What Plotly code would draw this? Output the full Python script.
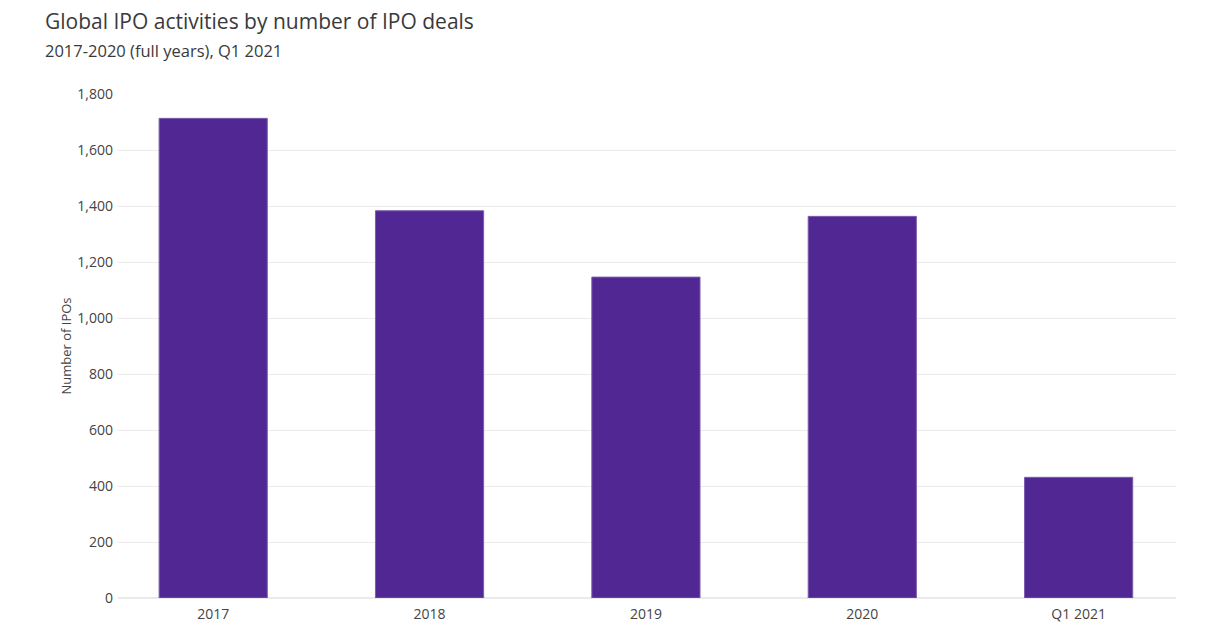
import plotly.graph_objects as go

categories = ["2017", "2018", "2019", "2020", "Q1 2021"]
ipo_counts = [1713, 1383, 1146, 1363, 431]
y_ticks = [0, 200, 400, 600, 800, 1000, 1200, 1400, 1600, 1800]

# page body has an 8px margin: compensate so the figure lines up with the window
OFF = 8
W, H = 1228 - OFF, 631 - OFF
L, R, T, B = 118 - OFF, 52, 94 - OFF, 33

fig = go.Figure()
fig.add_trace(go.Bar(
    x=categories,
    y=ipo_counts,
    width=0.5,
    marker=dict(color="#512893", line=dict(color="#7b5cb0", width=1)),
))

ph = H - T - B
pw = W - L - R

fig.update_layout(
    width=W,
    height=H,
    paper_bgcolor="white",
    plot_bgcolor="white",
    margin=dict(l=L, r=R, t=T, b=B),
    font=dict(family="Open Sans, Noto Sans, sans-serif", color="#444"),
    showlegend=False,
    annotations=[
        dict(text="Global IPO activities by number of IPO deals", xref="paper", yref="paper",
             x=(43 - 118) / pw, y=1 + (94 - 21) / ph, xanchor="left", yanchor="middle",
             showarrow=False, font=dict(size=21, color="#3a3a3a")),
        dict(text="2017-2020 (full years), Q1 2021", xref="paper", yref="paper",
             x=(43 - 118) / pw, y=1 + (94 - 50) / ph, xanchor="left", yanchor="middle",
             showarrow=False, font=dict(size=16.5, color="#3a3a3a")),
    ],
)

fig.update_xaxes(
    range=[-0.44, 4.45],
    showgrid=False,
    showline=False,
    ticks="",
    automargin=False,
    ticklabelstandoff=6,
    tickfont=dict(size=14, color="#444"),
)
fig.update_yaxes(
    range=[0, 1800],
    tickvals=y_ticks,
    tickformat=",",
    showgrid=True,
    gridcolor="#ebebeb",
    gridwidth=1,
    zeroline=True,
    zerolinecolor="#ebebeb",
    automargin=False,
    ticklabelstandoff=4,
    tickfont=dict(size=14, color="#444"),
    title=dict(text="Number of IPOs", font=dict(size=13, color="#444"), standoff=2),
)

fig.write_html("out.html")
